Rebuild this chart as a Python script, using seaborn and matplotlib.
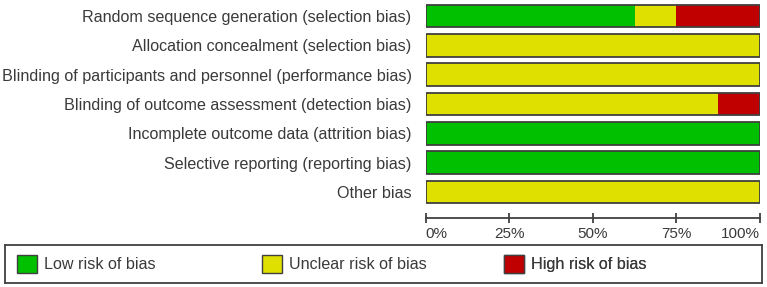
import matplotlib.pyplot as plt
import numpy as np
import seaborn as sns
from matplotlib.patches import Patch

# Risk of bias summary (percent of studies per domain)
domains = [
    "Random sequence generation (selection bias)",
    "Allocation concealment (selection bias)",
    "Blinding of participants and personnel (performance bias)",
    "Blinding of outcome assessment (detection bias)",
    "Incomplete outcome data (attrition bias)",
    "Selective reporting (reporting bias)",
    "Other bias",
]
low_risk = [62.5, 0, 0, 0, 100, 100, 0]
unclear_risk = [12.5, 100, 100, 87.5, 0, 0, 100]
high_risk = [25, 0, 0, 12.5, 0, 0, 0]

x_ticks = [0, 25, 50, 75, 100]
legend_labels = ["Low risk of bias", "Unclear risk of bias", "High risk of bias"]

green = "#00c000"
yellow = "#e0e000"
red = "#c00000"
edge = "#404040"
text_col = "#3a3a3a"

sns.set_theme(style="white")
plt.rcParams["font.family"] = ["Liberation Sans", "DejaVu Sans"]

W, H = 767, 287
fig = plt.figure(figsize=(W / 100, H / 100), dpi=100)

# main bar axes: x from 425.5 px to 760 px, y from 0 to 218 px
left, right, top, bottom = 425.5, 760, 0, 218
ax = fig.add_axes([left / W, 1 - bottom / H, (right - left) / W, (bottom - top) / H])

low = np.array(low_risk)
unclear = np.array(unclear_risk)
high = np.array(high_risk)

# stacked segments drawn as cumulative layers
sns.barplot(x=low + unclear + high, y=domains, color=red, saturation=1,
            width=0.77, linewidth=0, errorbar=None, orient="h", ax=ax)
sns.barplot(x=low + unclear, y=domains, color=yellow, saturation=1,
            width=0.77, linewidth=0, errorbar=None, orient="h", ax=ax)
sns.barplot(x=low, y=domains, color=green, saturation=1,
            width=0.77, linewidth=0, errorbar=None, orient="h", ax=ax)
# outline of each bar
sns.barplot(x=low + unclear + high, y=domains, color=edge, fill=False, saturation=1,
            width=0.77, linewidth=1.3, errorbar=None, orient="h", ax=ax)

row_h = 29.33
ax.set_ylim((bottom - 16) / row_h, (top - 16) / row_h)
ax.set_xlim(0, 100)
ax.set_xlabel("")
ax.set_ylabel("")

for s in ["top", "right", "left"]:
    ax.spines[s].set_visible(False)
ax.spines["bottom"].set_color(edge)
ax.spines["bottom"].set_linewidth(1.3)

ax.tick_params(axis="y", length=0, pad=10, labelsize=11.6, labelcolor=text_col)
ax.set_xticks(x_ticks)
ax.set_xticklabels([f"{t}%" for t in x_ticks])
ax.tick_params(axis="x", direction="inout", length=7, width=1.3, color=edge,
               pad=3, labelsize=11, labelcolor=text_col, bottom=True)
labels = ax.get_xticklabels()
labels[0].set_ha("left")
labels[-1].set_ha("right")
for lab in ax.get_xticklabels() + ax.get_yticklabels():
    lab.set_clip_on(False)

# legend box
lx0, lx1, ly0, ly1 = 5, 762, 245, 283
lax = fig.add_axes([lx0 / W, 1 - ly1 / H, (lx1 - lx0) / W, (ly1 - ly0) / H])
lax.set_xticks([])
lax.set_yticks([])
for s in lax.spines.values():
    s.set_color(edge)
    s.set_linewidth(1.3)
    s.set_visible(True)

starts = [17, 262, 504]
for col, lab, xs in zip([green, yellow, red], legend_labels, starts):
    leg = lax.legend(handles=[Patch(facecolor=col, edgecolor=edge, linewidth=1.0, label=lab)],
                     loc="center left", bbox_to_anchor=((xs - lx0) / (lx1 - lx0), 0.5),
                     frameon=False, fontsize=11.6, handlelength=1.25, handleheight=1.3,
                     handletextpad=0.4, borderaxespad=0, borderpad=0, labelcolor=text_col)
    lax.add_artist(leg)

fig.savefig("out.png", dpi=100)
